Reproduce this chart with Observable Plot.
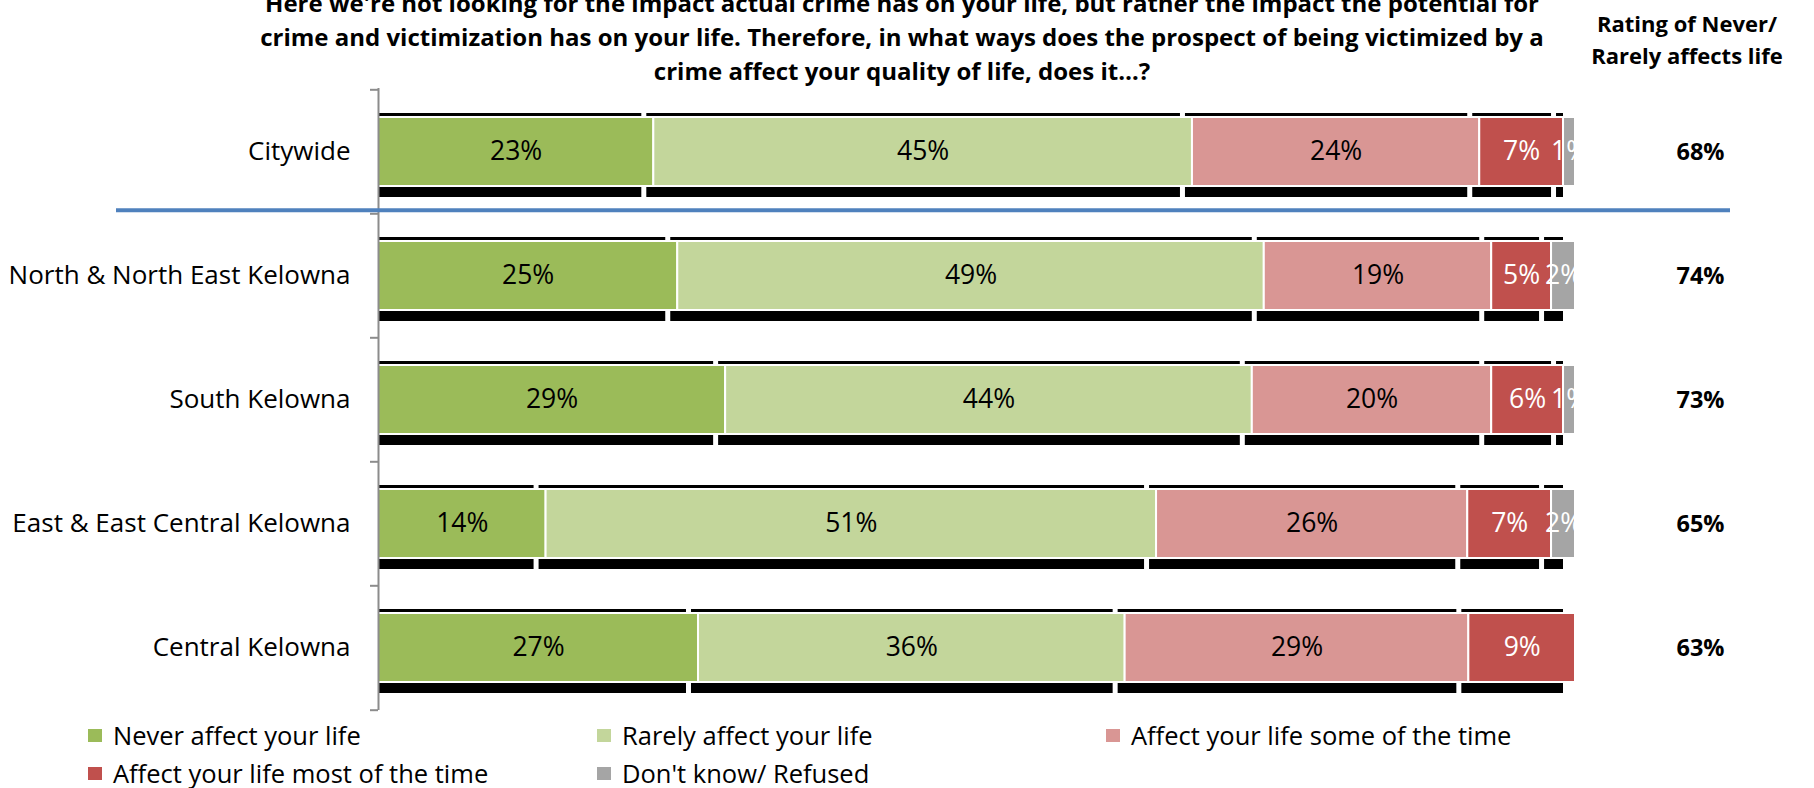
<!DOCTYPE html>
<html>
<head>
<meta charset="utf-8">
<script src="https://cdn.jsdelivr.net/npm/d3@7"></script>
<script src="https://cdn.jsdelivr.net/npm/@observablehq/plot@0.6"></script>
<style>
  html, body { margin: 0; padding: 0; background: #fff; }
  body { width: 1814px; height: 788px; position: relative; overflow: hidden; font-family: "Open Sans", Lato, sans-serif; color: #000; }
  #chart { position: absolute; left: 0; top: 0; }
  #title { position: absolute; left: 150px; width: 1504px; top: -14px; text-align: center; font-weight: bold; font-size: 24px; line-height: 34px; }
  #header { position: absolute; left: 1567px; width: 240px; top: 7px; text-align: center; font-weight: bold; font-size: 22px; line-height: 32px; }
  #legend { position: absolute; left: 88px; top: 716px; display: grid; grid-template-columns: 509px 509px 509px; row-gap: 0; }
  .item { display: flex; align-items: center; height: 38px; font-size: 25.5px; white-space: nowrap; }
  .sw { width: 14px; height: 13px; margin-right: 11px; flex: none; }
</style>
</head>
<body>
<div id="chart"></div>
<div id="title"></div>
<div id="header"></div>
<div id="legend"></div>
<script>
const titleLines = [
  "Here we're not looking for the impact actual crime has on your life, but rather the impact the potential for",
  "crime and victimization has on your life. Therefore, in what ways does the prospect of being victimized by a",
  "crime affect your quality of life, does it…?"
];
const headerLines = ["Rating of Never/", "Rarely affects life"];
const categories = ["Citywide", "North & North East Kelowna", "South Kelowna", "East & East Central Kelowna", "Central Kelowna"];
const series = ["Never affect your life", "Rarely affect your life", "Affect your life some of the time", "Affect your life most of the time", "Don't know/ Refused"];
const colors = ["#9bbb59", "#c3d69b", "#d99694", "#c0504d", "#a5a5a5"];
const never = [23, 25, 29, 14, 27];
const rarely = [45, 49, 44, 51, 36];
const some = [24, 19, 20, 26, 29];
const most = [7, 5, 6, 7, 9];
const dontKnow = [1, 2, 1, 2, 0];
const rating = [68, 74, 73, 65, 63];

const seriesValues = [never, rarely, some, most, dontKnow];
const data = [];
categories.forEach((c, i) => {
  series.forEach((s, j) => {
    data.push({cat: c, series: s, si: j, value: seriesValues[j][i]});
  });
});

document.getElementById("title").innerHTML = titleLines.join("<br>");
document.getElementById("header").innerHTML = headerLines.join("<br>");
const legendOrder = [0, 1, 2, 3, 4];
document.getElementById("legend").innerHTML = legendOrder.map(j =>
  `<div class="item"><span class="sw" style="background:${colors[j]}"></span>${series[j]}</div>`).join("");

const step = (788 - 88 - 78) / categories.length;
const stackOpts = {x: "value", y: "cat", z: "series", offset: "normalize", order: null};

const plot = Plot.plot({
  width: 1814,
  height: 788,
  marginLeft: 378,
  marginRight: 239,
  marginTop: 88,
  marginBottom: 78,
  style: {fontFamily: "'Open Sans', Lato, sans-serif", fontSize: "24px", color: "#000", background: "#fff"},
  x: {domain: [0, 1], axis: null},
  y: {domain: categories, paddingInner: 0.445, paddingOuter: 0.2225, axis: null},
  color: {domain: series, range: colors},
  marks: [
    // shadow strips
    Plot.barX(data, Plot.stackX({...stackOpts, fill: "#000", insetTop: -4, insetBottom: -11, insetLeft: -7, insetRight: 12, clip: true})),
    Plot.barX(data, Plot.stackX({...stackOpts, fill: "series", stroke: "#fff", strokeWidth: 2})),
    Plot.text(data, Plot.stackX({...stackOpts, text: d => (d.si < 3 && d.value > 0) ? d.value + "%" : "", fill: "#000", fontSize: 26.5})),
    Plot.text(data, Plot.stackX({...stackOpts, text: d => (d.si >= 3 && d.value > 0) ? d.value + "%" : "", fill: "#fff", fontSize: 26.5})),
    Plot.ruleX([0], {stroke: "#8c8c8c", strokeWidth: 2}),
    Plot.ruleY(categories, {y: d => d, x1: 0, x2: 0, insetLeft: -8, dy: -step / 2, stroke: "#8c8c8c", strokeWidth: 2}),
    Plot.ruleY([categories[categories.length - 1]], {y: d => d, x1: 0, x2: 0, insetLeft: -8, dy: step / 2, stroke: "#8c8c8c", strokeWidth: 2}),
    Plot.ruleY([categories[0]], {y: d => d, dy: step / 2 - 4, insetLeft: -262, insetRight: -155, stroke: "#4f81bd", strokeWidth: 4}),
    Plot.axisY({tickSize: 0, tickPadding: 28, fontSize: 26, label: null}),
    Plot.text(rating, {y: (d, i) => categories[i], text: d => d + "%", frameAnchor: "right", textAnchor: "middle", dx: 125, fontWeight: "bold", fontSize: 23.5})
  ]
});
document.getElementById("chart").appendChild(plot);
</script>
</body>
</html>
